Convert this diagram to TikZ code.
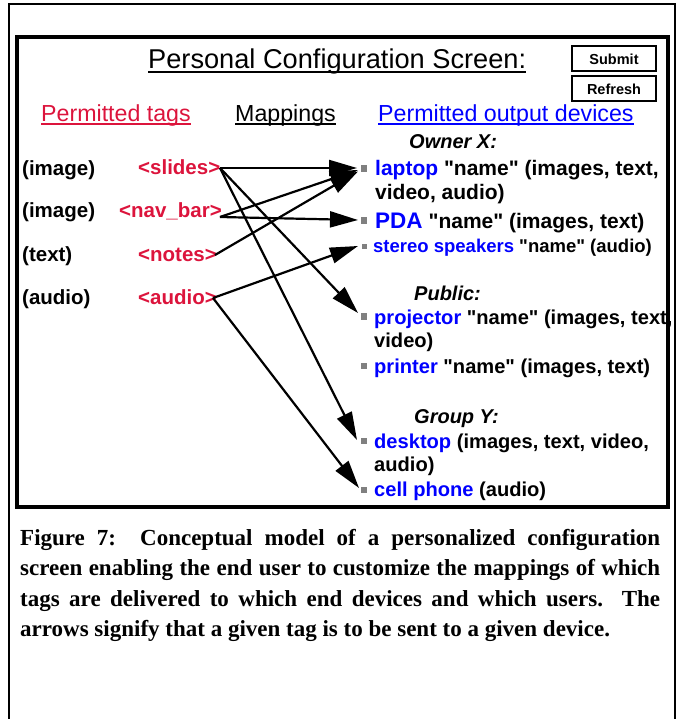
\documentclass[tikz,border=0pt]{standalone}
\usepackage{fontspec}
\setmainfont{Liberation Sans}[Ligatures=TeXOff]
\newfontfamily\serifcap{Liberation Serif}
\usetikzlibrary{arrows.meta}
\definecolor{tagred}{RGB}{220,20,60}
\definecolor{devblue}{RGB}{0,0,255}
\definecolor{bulletgrey}{RGB}{128,128,128}
\newcommand{\qtq}{\symbol{34}}
\tikzset{
  txt/.style={inner sep=0pt, anchor=base west},
  lbl/.style={txt, font=\bfseries\fontsize{20.5}{24}\selectfont},
  tagtxt/.style={txt, text=tagred, font=\bfseries\fontsize{20.5}{24}\selectfont},
  hdr/.style={txt, font=\fontsize{23.2}{28}\selectfont},
  grp/.style={txt, font=\bfseries\itshape\fontsize{20}{24}\selectfont},
  dev/.style={txt, font=\bfseries\fontsize{21}{24}\selectfont},
  devlow/.style={txt, font=\bfseries\fontsize{20.1}{24}\selectfont},
  devsmall/.style={txt, font=\bfseries\fontsize{18.5}{22}\selectfont},
  bul/.style={fill=bulletgrey, minimum size=6.5pt, inner sep=0pt},
  bulsmall/.style={fill=bulletgrey, minimum size=5pt, inner sep=0pt},
  btn/.style={draw, line width=2pt, minimum width=84pt, minimum height=25pt, inner sep=0pt, font=\bfseries\fontsize{14.5}{17}\selectfont},
  maparrow/.style={-{Triangle[length=28pt,width=16pt]}, line width=2.2pt},
  uline/.style={line width=1.5pt}
}
\begin{document}
\begin{tikzpicture}[x=1pt,y=-1pt]
\useasboundingbox (0,0) rectangle (678,719);
% frames
\draw[line width=2pt] (9,722) -- (9,4.5) -- (674.5,4.5) -- (674.5,722);
\draw[line width=4pt] (16.5,37.5) rectangle (668,507);
% title
\node[txt, font=\fontsize{27.2}{30}\selectfont] (title) at (148,68.5) {Personal Configuration Screen:};
\draw[uline] ([yshift=-3.5pt]title.base west) -- ([yshift=-3.5pt]title.base east);
\node[btn] (submit) at (614,59) {Submit};
\node[btn] (refresh) at (614,89) {Refresh};
% headers
\node[hdr, text=tagred] (h1) at (41,122) {Permitted tags};
\draw[uline, tagred] ([yshift=-2pt]h1.base west) -- ([yshift=-2pt]h1.base east);
\node[hdr] (h2) at (235,122) {Mappings};
\draw[uline] ([yshift=-2pt]h2.base west) -- ([yshift=-2pt]h2.base east);
\node[hdr, text=devblue] (h3) at (378,122) {Permitted output devices};
\draw[uline, devblue] ([yshift=-2pt]h3.base west) -- ([yshift=-2pt]h3.base east);
% left labels
\node[lbl] (l1) at (22,176) {(image)};
\node[lbl] (l2) at (22,218) {(image)};
\node[lbl] (l3) at (22,261) {(text)};
\node[lbl] (l4) at (22,304) {(audio)};
% tags
\node[tagtxt] (slides) at (138,175) {<slides>};
\node[tagtxt] (navbar) at (119,218) {<nav\_bar>};
\node[tagtxt] (notes) at (138,261) {<notes>};
\node[tagtxt] (audio) at (138,304) {<audio>};
% groups
\node[grp] (gx) at (409,149) {Owner X:};
\node[grp] (gp) at (414,300) {Public:};
\node[grp] (gy) at (414,423) {Group Y:};
% devices
\node[bul] (b1) at (364,168.5) {};
\node[dev] (laptop) at (375,176) {\textcolor{devblue}{laptop} \qtq name\qtq\ (images, text,};
\node[dev] (laptop2) at (375,200) {video, audio)};
\node[bul] (b2) at (364,220.5) {};
\node[dev] (pda) at (375,228) {\textcolor{devblue}{\fontsize{22.5}{24}\selectfont PDA} \qtq name\qtq\ (images, text)};
\node[bulsmall] (b3) at (364,246) {};
\node[devsmall] (stereo) at (373,252.5) {\textcolor{devblue}{stereo speakers} \qtq name\qtq\ (audio)};
\node[bul] (b4) at (364,316.5) {};
\node[devlow] (proj) at (374,324) {\textcolor{devblue}{projector} \qtq name\qtq\ (images, text,};
\node[devlow] (proj2) at (374,347) {video)};
\node[bul] (b5) at (364,366) {};
\node[devlow] (printer) at (374,373) {\textcolor{devblue}{printer} \qtq name\qtq\ (images, text)};
\node[bul] (b6) at (364,441) {};
\node[devlow] (desk) at (374,448) {\textcolor{devblue}{desktop} (images, text, video,};
\node[devlow] (desk2) at (374,471) {audio)};
\node[bul] (b7) at (364,490) {};
\node[devlow] (cell) at (374,496) {\textcolor{devblue}{cell phone} (audio)};
% connector end points
\coordinate (sOut) at (220,168);
\coordinate (nOut) at (220,217);
\coordinate (tOut) at (215,255);
\coordinate (aOut) at (213,298);
\coordinate (lapA) at (357,168);
\coordinate (lapB) at (358,170);
\coordinate (lapC) at (358,171.5);
\coordinate (pdaIn) at (358,220);
\coordinate (stIn) at (358,246);
\coordinate (prIn) at (358,313);
\coordinate (dkIn) at (357,440);
\coordinate (clIn) at (359,488);
\draw[maparrow] (sOut) -- (lapA);
\draw[maparrow] (sOut) -- (prIn);
\draw[maparrow] (sOut) -- (dkIn);
\draw[maparrow] (nOut) -- (lapB);
\draw[maparrow] (nOut) -- (pdaIn);
\draw[maparrow] (tOut) -- (lapC);
\draw[maparrow] (aOut) -- (stIn);
\draw[maparrow] (aOut) -- (clIn);
% caption
\begin{scope}[every node/.style={inner sep=0pt, anchor=base west, font=\serifcap\bfseries\fontsize{23}{30}\selectfont}]
\node (c1) at (20,545) {\makebox[640pt][s]{Figure 7:\ \ Conceptual model of a personalized configuration}};
\node (c2) at (20,575.5) {\makebox[640pt][s]{screen enabling the end user to customize the mappings of which}};
\node (c3) at (20,606) {\makebox[640pt][s]{tags are delivered to which end devices and which users.\ \ The}};
\node (c4) at (20,636.5) {arrows signify that a given tag is to be sent to a given device.};
\end{scope}
\end{tikzpicture}
\end{document}
